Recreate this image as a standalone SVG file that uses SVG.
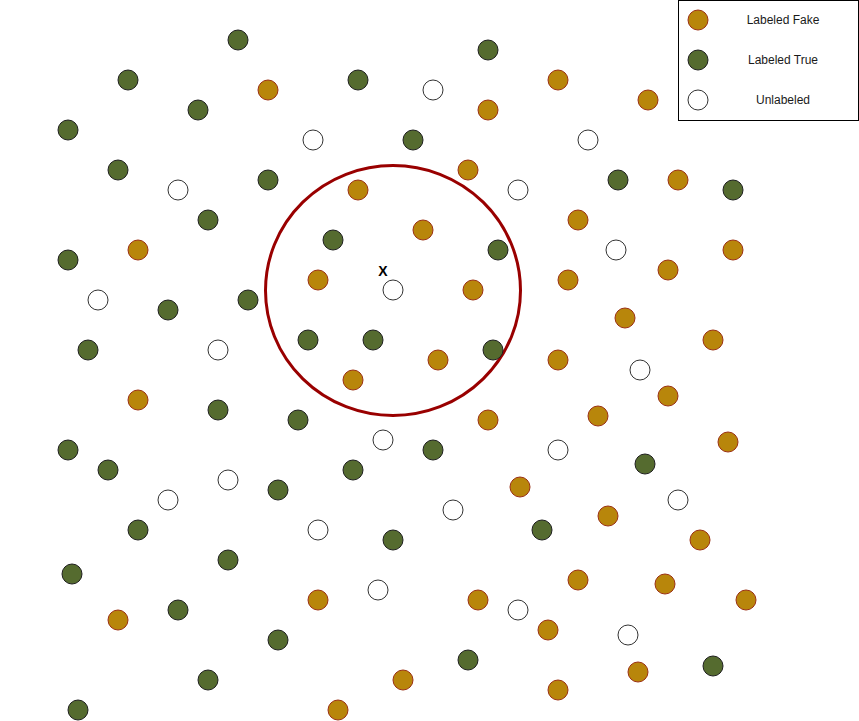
<svg xmlns="http://www.w3.org/2000/svg" width="859" height="721" viewBox="0 0 859 721">
<style>
.f{fill:#B8860B;stroke:#9B3014;stroke-width:1}
.t{fill:#556B2F;stroke:#1f1f1f;stroke-width:1}
.u{fill:#FFFFFF;stroke:#333333;stroke-width:1}
.lbl{font-family:"Liberation Sans",Arial,sans-serif;font-size:12px;fill:#1a1a1a;text-anchor:middle}
.x{font-family:"Liberation Sans",Arial,sans-serif;font-size:14px;font-weight:bold;fill:#000;text-anchor:middle}
</style>
<rect width="859" height="721" fill="#ffffff"/>
<g id="region">
<ellipse cx="393" cy="290.5" rx="127.5" ry="125" fill="none" stroke="#990000" stroke-width="3"/>
<text class="x" x="383" y="276">X</text>
</g>
<g id="points">
<g id="p1"><circle class="t" cx="238" cy="40" r="10"/></g>
<g id="p2"><circle class="t" cx="128" cy="80" r="10"/></g>
<g id="p3"><circle class="f" cx="268" cy="90" r="10"/></g>
<g id="p4"><circle class="t" cx="358" cy="80" r="10"/></g>
<g id="p5"><circle class="u" cx="433" cy="90" r="10"/></g>
<g id="p6"><circle class="t" cx="198" cy="110" r="10"/></g>
<g id="p7"><circle class="t" cx="68" cy="130" r="10"/></g>
<g id="p8"><circle class="u" cx="313" cy="140" r="10"/></g>
<g id="p9"><circle class="t" cx="413" cy="140" r="10"/></g>
<g id="p10"><circle class="t" cx="118" cy="170" r="10"/></g>
<g id="p11"><circle class="u" cx="178" cy="190" r="10"/></g>
<g id="p12"><circle class="t" cx="268" cy="180" r="10"/></g>
<g id="p13"><circle class="f" cx="358" cy="190" r="10"/></g>
<g id="p14"><circle class="t" cx="208" cy="220" r="10"/></g>
<g id="p15"><circle class="f" cx="423" cy="230" r="10"/></g>
<g id="p16"><circle class="t" cx="333" cy="240" r="10"/></g>
<g id="p17"><circle class="t" cx="68" cy="260" r="10"/></g>
<g id="p18"><circle class="f" cx="138" cy="250" r="10"/></g>
<g id="p19"><circle class="f" cx="318" cy="280" r="10"/></g>
<g id="p20"><circle class="u" cx="393" cy="290" r="10"/></g>
<g id="p21"><circle class="u" cx="98" cy="300" r="10"/></g>
<g id="p22"><circle class="t" cx="168" cy="310" r="10"/></g>
<g id="p23"><circle class="t" cx="248" cy="300" r="10"/></g>
<g id="p24"><circle class="t" cx="88" cy="350" r="10"/></g>
<g id="p25"><circle class="u" cx="218" cy="350" r="10"/></g>
<g id="p26"><circle class="t" cx="308" cy="340" r="10"/></g>
<g id="p27"><circle class="t" cx="373" cy="340" r="10"/></g>
<g id="p28"><circle class="t" cx="488" cy="50" r="10"/></g>
<g id="p29"><circle class="f" cx="488" cy="110" r="10"/></g>
<g id="p30"><circle class="f" cx="558" cy="80" r="10"/></g>
<g id="p31"><circle class="f" cx="648" cy="100" r="10"/></g>
<g id="p32"><circle class="u" cx="588" cy="140" r="10"/></g>
<g id="p33"><circle class="f" cx="468" cy="170" r="10"/></g>
<g id="p34"><circle class="u" cx="518" cy="190" r="10"/></g>
<g id="p35"><circle class="t" cx="618" cy="180" r="10"/></g>
<g id="p36"><circle class="f" cx="678" cy="180" r="10"/></g>
<g id="p37"><circle class="t" cx="733" cy="190" r="10"/></g>
<g id="p38"><circle class="f" cx="578" cy="220" r="10"/></g>
<g id="p39"><circle class="t" cx="498" cy="250" r="10"/></g>
<g id="p40"><circle class="u" cx="616" cy="250" r="10"/></g>
<g id="p41"><circle class="f" cx="733" cy="250" r="10"/></g>
<g id="p42"><circle class="f" cx="473" cy="290" r="10"/></g>
<g id="p43"><circle class="f" cx="568" cy="280" r="10"/></g>
<g id="p44"><circle class="f" cx="668" cy="270" r="10"/></g>
<g id="p45"><circle class="f" cx="625" cy="318" r="10"/></g>
<g id="p46"><circle class="f" cx="713" cy="340" r="10"/></g>
<g id="p47"><circle class="t" cx="493" cy="350" r="10"/></g>
<g id="p48"><circle class="f" cx="438" cy="360" r="10"/></g>
<g id="p49"><circle class="f" cx="558" cy="360" r="10"/></g>
<g id="p50"><circle class="f" cx="353" cy="380" r="10"/></g>
<g id="p51"><circle class="f" cx="138" cy="400" r="10"/></g>
<g id="p52"><circle class="t" cx="218" cy="410" r="10"/></g>
<g id="p53"><circle class="t" cx="298" cy="420" r="10"/></g>
<g id="p54"><circle class="u" cx="383" cy="440" r="10"/></g>
<g id="p55"><circle class="t" cx="433" cy="450" r="10"/></g>
<g id="p56"><circle class="t" cx="68" cy="450" r="10"/></g>
<g id="p57"><circle class="t" cx="108" cy="470" r="10"/></g>
<g id="p58"><circle class="u" cx="228" cy="480" r="10"/></g>
<g id="p59"><circle class="t" cx="278" cy="490" r="10"/></g>
<g id="p60"><circle class="t" cx="353" cy="470" r="10"/></g>
<g id="p61"><circle class="u" cx="168" cy="500" r="10"/></g>
<g id="p62"><circle class="t" cx="138" cy="530" r="10"/></g>
<g id="p63"><circle class="u" cx="318" cy="530" r="10"/></g>
<g id="p64"><circle class="t" cx="393" cy="540" r="10"/></g>
<g id="p65"><circle class="t" cx="228" cy="560" r="10"/></g>
<g id="p66"><circle class="t" cx="72" cy="574" r="10"/></g>
<g id="p67"><circle class="f" cx="318" cy="600" r="10"/></g>
<g id="p68"><circle class="u" cx="378" cy="590" r="10"/></g>
<g id="p69"><circle class="f" cx="118" cy="620" r="10"/></g>
<g id="p70"><circle class="t" cx="178" cy="610" r="10"/></g>
<g id="p71"><circle class="t" cx="278" cy="640" r="10"/></g>
<g id="p72"><circle class="t" cx="208" cy="680" r="10"/></g>
<g id="p73"><circle class="f" cx="403" cy="680" r="10"/></g>
<g id="p74"><circle class="t" cx="78" cy="710" r="10"/></g>
<g id="p75"><circle class="f" cx="338" cy="710" r="10"/></g>
<g id="p76"><circle class="u" cx="640" cy="370" r="10"/></g>
<g id="p77"><circle class="f" cx="668" cy="396" r="10"/></g>
<g id="p78"><circle class="f" cx="488" cy="420" r="10"/></g>
<g id="p79"><circle class="f" cx="598" cy="416" r="10"/></g>
<g id="p80"><circle class="f" cx="728" cy="442" r="10"/></g>
<g id="p81"><circle class="u" cx="558" cy="450" r="10"/></g>
<g id="p82"><circle class="t" cx="645" cy="464" r="10"/></g>
<g id="p83"><circle class="f" cx="520" cy="487" r="10"/></g>
<g id="p84"><circle class="u" cx="453" cy="510" r="10"/></g>
<g id="p85"><circle class="u" cx="678" cy="500" r="10"/></g>
<g id="p86"><circle class="f" cx="608" cy="516" r="10"/></g>
<g id="p87"><circle class="t" cx="542" cy="530" r="10"/></g>
<g id="p88"><circle class="f" cx="700" cy="540" r="10"/></g>
<g id="p89"><circle class="f" cx="578" cy="580" r="10"/></g>
<g id="p90"><circle class="f" cx="665" cy="584" r="10"/></g>
<g id="p91"><circle class="f" cx="746" cy="600" r="10"/></g>
<g id="p92"><circle class="f" cx="478" cy="600" r="10"/></g>
<g id="p93"><circle class="u" cx="518" cy="610" r="10"/></g>
<g id="p94"><circle class="f" cx="548" cy="630" r="10"/></g>
<g id="p95"><circle class="u" cx="628" cy="635" r="10"/></g>
<g id="p96"><circle class="t" cx="468" cy="660" r="10"/></g>
<g id="p97"><circle class="f" cx="638" cy="672" r="10"/></g>
<g id="p98"><circle class="t" cx="713" cy="666" r="10"/></g>
<g id="p99"><circle class="f" cx="558" cy="690" r="10"/></g>
</g>
<g id="legend">
<rect x="678.5" y="0.5" width="180" height="120" fill="#ffffff" stroke="#000000" stroke-width="1"/>
<g id="legend-fake"><circle class="f" cx="698" cy="20" r="10"/><text class="lbl" x="783" y="24">Labeled Fake</text></g>
<g id="legend-true"><circle class="t" cx="698" cy="60" r="10"/><text class="lbl" x="783" y="64">Labeled True</text></g>
<g id="legend-unlabeled"><circle class="u" cx="698" cy="100" r="10"/><text class="lbl" x="783" y="104">Unlabeled</text></g>
</g>
<g id="connectors"/>
</svg>
